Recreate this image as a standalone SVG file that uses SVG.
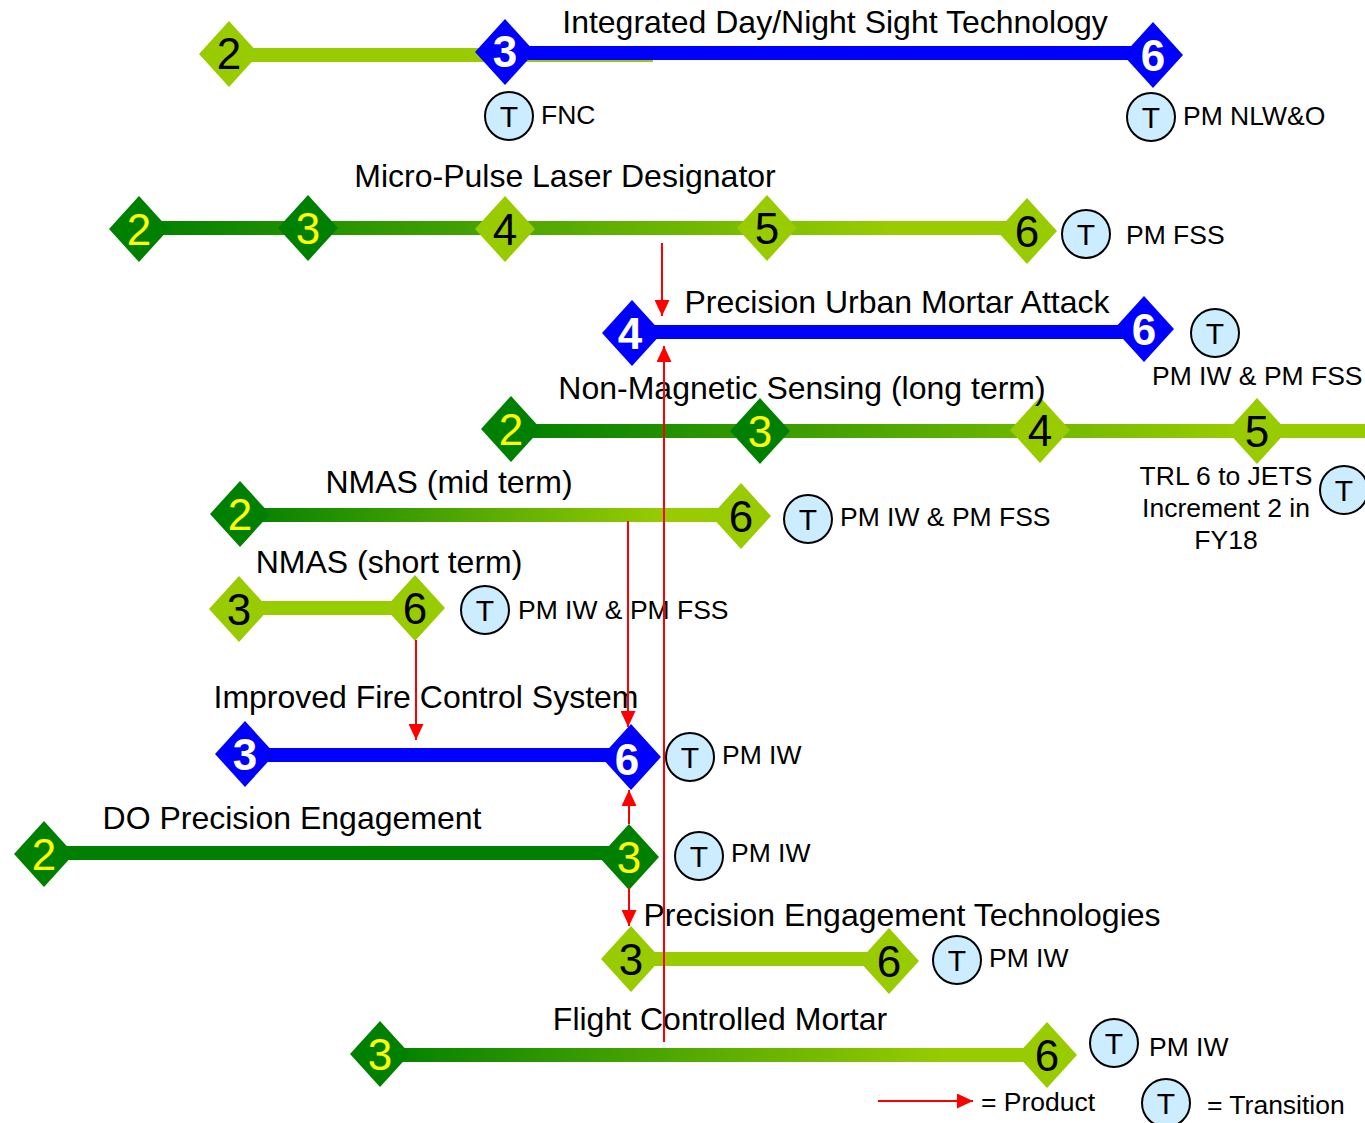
<svg xmlns="http://www.w3.org/2000/svg" xmlns:xlink="http://www.w3.org/1999/xlink" width="1365" height="1123" viewBox="0 0 1365 1123">
  <style>
    text { font-family: "Liberation Sans", Arial, sans-serif; }
    .title { font-size: 32px; fill: #000; text-anchor: middle; }
    .lbl { font-size: 26.5px; fill: #000; }
    .dg { font-size: 44px; text-anchor: middle; }
    .dk { fill: #000; }
    .dy { fill: #FFFF00; }
    .dw { fill: #FFFFFF; font-weight: bold; }
    .lg { fill: #99CC00; }
    .dkg { fill: #008000; }
    .bl { fill: #0000FF; }
    .grad { fill: url(#fade); }
    .prod { stroke: #FF0000; stroke-width: 2; fill: none; marker-end: url(#ah); }
  </style>
  <defs>
    <linearGradient id="fade" x1="0" y1="0" x2="1" y2="0">
      <stop offset="0" stop-color="#008000"/>
      <stop offset="0.85" stop-color="#99CC00"/>
      <stop offset="1" stop-color="#99CC00"/>
    </linearGradient>
    <polygon id="dia" points="0,-33 30,0 0,33 -30,0"/>
    <g id="tc">
      <circle r="24" fill="#CCECFF" stroke="#000" stroke-width="2"/>
      <text y="11" font-size="30" text-anchor="middle" fill="#000">T</text>
    </g>
    <marker id="ah" viewBox="0 0 16 15" refX="16" refY="7.5" markerWidth="16" markerHeight="15" markerUnits="userSpaceOnUse" orient="auto">
      <path d="M0,0 L16,7.5 L0,15 z" fill="#FF0000"/>
    </marker>
  </defs>

  <rect width="1365" height="1123" fill="#FFFFFF"/>

  <!-- Integrated Day/Night Sight Technology -->
  <g id="idnst">
    <rect x="228" y="48" width="425" height="14" class="lg"/>
    <rect x="505" y="46" width="648" height="14" class="bl"/>
    <use xlink:href="#dia" x="229" y="54" class="lg"/>
    <text x="229" y="69" class="dg dk">2</text>
    <use xlink:href="#dia" x="505" y="52" class="bl"/>
    <text x="505" y="67" class="dg dw">3</text>
    <use xlink:href="#dia" x="1153" y="55" class="bl"/>
    <text x="1153" y="71" class="dg dw">6</text>
    <text x="835" y="33" class="title">Integrated Day/Night Sight Technology</text>
    <use xlink:href="#tc" x="509" y="116"/>
    <text x="541" y="124" class="lbl">FNC</text>
    <use xlink:href="#tc" x="1151" y="117"/>
    <text x="1183" y="125" class="lbl">PM NLW&amp;O</text>
  </g>

  <!-- Micro-Pulse Laser Designator -->
  <g id="mpld">
    <rect x="140" y="221" width="887" height="14" class="grad"/>
    <use xlink:href="#dia" x="139" y="229" class="dkg"/>
    <text x="139" y="245" class="dg dy">2</text>
    <use xlink:href="#dia" x="308" y="228" class="dkg"/>
    <text x="308" y="244" class="dg dy">3</text>
    <use xlink:href="#dia" x="505" y="229" class="lg"/>
    <text x="505" y="245" class="dg dk">4</text>
    <use xlink:href="#dia" x="767" y="228" class="lg"/>
    <text x="767" y="244" class="dg dk">5</text>
    <use xlink:href="#dia" x="1027" y="231" class="lg"/>
    <text x="1027" y="247" class="dg dk">6</text>
    <text x="565" y="187" class="title">Micro-Pulse Laser Designator</text>
    <use xlink:href="#tc" x="1086" y="234"/>
    <text x="1126" y="244" class="lbl">PM FSS</text>
  </g>

  <!-- Precision Urban Mortar Attack -->
  <g id="puma">
    <rect x="632" y="325" width="512" height="14" class="bl"/>
    <use xlink:href="#dia" x="632" y="333" class="bl"/>
    <text x="630" y="349" class="dg dw">4</text>
    <use xlink:href="#dia" x="1144" y="329" class="bl"/>
    <text x="1144" y="345" class="dg dw">6</text>
    <text x="897" y="313" class="title">Precision Urban Mortar Attack</text>
    <use xlink:href="#tc" x="1215" y="333"/>
    <text x="1152" y="385" class="lbl">PM IW &amp; PM FSS</text>
  </g>

  <!-- Non-Magnetic Sensing (long term) -->
  <g id="nms">
    <rect x="510" y="424" width="855" height="14" class="grad"/>
    <use xlink:href="#dia" x="511" y="429" class="dkg"/>
    <text x="511" y="445" class="dg dy">2</text>
    <use xlink:href="#dia" x="760" y="431" class="dkg"/>
    <text x="760" y="447" class="dg dy">3</text>
    <use xlink:href="#dia" x="1040" y="430" class="lg"/>
    <text x="1040" y="446" class="dg dk">4</text>
    <use xlink:href="#dia" x="1257" y="431" class="lg"/>
    <text x="1257" y="447" class="dg dk">5</text>
    <text x="802" y="399" class="title">Non-Magnetic Sensing (long term)</text>
    <text x="1226" y="485" class="lbl" text-anchor="middle">TRL 6 to JETS</text>
    <text x="1226" y="517" class="lbl" text-anchor="middle">Increment 2 in</text>
    <text x="1226" y="549" class="lbl" text-anchor="middle">FY18</text>
    <use xlink:href="#tc" x="1344" y="490"/>
  </g>

  <!-- NMAS (mid term) -->
  <g id="nmas-mid">
    <rect x="240" y="508" width="502" height="14" class="grad"/>
    <use xlink:href="#dia" x="240" y="514" class="dkg"/>
    <text x="240" y="530" class="dg dy">2</text>
    <use xlink:href="#dia" x="741" y="516" class="lg"/>
    <text x="741" y="532" class="dg dk">6</text>
    <text x="449" y="493" class="title">NMAS (mid term)</text>
    <use xlink:href="#tc" x="808" y="519"/>
    <text x="840" y="526" class="lbl">PM IW &amp; PM FSS</text>
  </g>

  <!-- NMAS (short term) -->
  <g id="nmas-short">
    <rect x="240" y="601" width="175" height="14" class="lg"/>
    <use xlink:href="#dia" x="239" y="609" class="lg"/>
    <text x="239" y="625" class="dg dk">3</text>
    <use xlink:href="#dia" x="415" y="608" class="lg"/>
    <text x="415" y="624" class="dg dk">6</text>
    <text x="389" y="573" class="title">NMAS (short term)</text>
    <use xlink:href="#tc" x="485" y="610"/>
    <text x="518" y="619" class="lbl">PM IW &amp; PM FSS</text>
  </g>

  <!-- Improved Fire Control System -->
  <g id="ifcs">
    <rect x="245" y="748" width="386" height="14" class="bl"/>
    <use xlink:href="#dia" x="245" y="754" class="bl"/>
    <text x="245" y="770" class="dg dw">3</text>
    <use xlink:href="#dia" x="631" y="757" class="bl"/>
    <text x="627" y="775" class="dg dw">6</text>
    <text x="426" y="708" class="title">Improved Fire Control System</text>
    <use xlink:href="#tc" x="690" y="757"/>
    <text x="722" y="764" class="lbl">PM IW</text>
  </g>

  <!-- DO Precision Engagement -->
  <g id="dope">
    <rect x="45" y="846" width="585" height="14" class="dkg"/>
    <use xlink:href="#dia" x="44" y="854" class="dkg"/>
    <text x="44" y="870" class="dg dy">2</text>
    <use xlink:href="#dia" x="629" y="857" class="dkg"/>
    <text x="629" y="873" class="dg dy">3</text>
    <text x="292" y="829" class="title">DO Precision Engagement</text>
    <use xlink:href="#tc" x="699" y="856"/>
    <text x="731" y="862" class="lbl">PM IW</text>
  </g>

  <!-- Precision Engagement Technologies -->
  <g id="pet">
    <rect x="632" y="952" width="258" height="14" class="lg"/>
    <use xlink:href="#dia" x="631" y="959" class="lg"/>
    <text x="631" y="975" class="dg dk">3</text>
    <use xlink:href="#dia" x="889" y="961" class="lg"/>
    <text x="889" y="977" class="dg dk">6</text>
    <text x="902" y="926" class="title">Precision Engagement Technologies</text>
    <use xlink:href="#tc" x="957" y="960"/>
    <text x="989" y="967" class="lbl">PM IW</text>
  </g>

  <!-- Flight Controlled Mortar -->
  <g id="fcm">
    <rect x="380" y="1048" width="667" height="14" class="grad"/>
    <use xlink:href="#dia" x="380" y="1054" class="dkg"/>
    <text x="380" y="1070" class="dg dy">3</text>
    <use xlink:href="#dia" x="1047" y="1055" class="lg"/>
    <text x="1047" y="1071" class="dg dk">6</text>
    <text x="720" y="1030" class="title">Flight Controlled Mortar</text>
    <use xlink:href="#tc" x="1114" y="1043"/>
    <text x="1149" y="1056" class="lbl">PM IW</text>
  </g>

  <!-- Product links -->
  <g id="connectors">
    <line x1="662" y1="243" x2="662" y2="316" class="prod"/>
    <line x1="664" y1="1042" x2="664" y2="346" class="prod"/>
    <line x1="628" y1="521" x2="628" y2="727" class="prod"/>
    <line x1="416" y1="640" x2="416" y2="740" class="prod"/>
    <line x1="629" y1="824" x2="629" y2="790" class="prod"/>
    <line x1="629" y1="888" x2="629" y2="926" class="prod"/>
  </g>

  <!-- Legend -->
  <g id="legend">
    <line x1="878" y1="1101" x2="973" y2="1101" class="prod"/>
    <text x="981" y="1111" class="lbl">= Product</text>
    <use xlink:href="#tc" x="1166" y="1103"/>
    <text x="1207" y="1114" class="lbl">= Transition</text>
  </g>
</svg>
